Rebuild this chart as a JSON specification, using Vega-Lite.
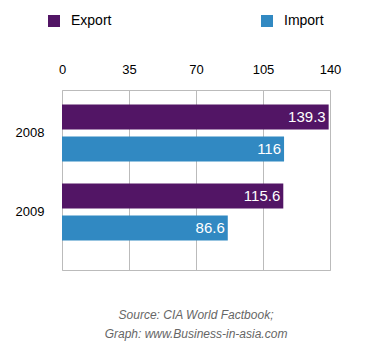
{
  "$schema": "https://vega.github.io/schema/vega-lite/v6.json",
  "width": 268,
  "height": 180,
  "autosize": {"type": "none"},
  "padding": {"left": 62, "top": 90, "right": 52, "bottom": 84},
  "config": {
    "font": "Liberation Sans",
    "view": {"stroke": "#bbbbbb"}
  },
  "title": {
    "text": ["Source: CIA World Factbook;", "Graph: www.Business-in-asia.com"],
    "orient": "bottom",
    "anchor": "middle",
    "offset": 40,
    "fontSize": 12,
    "fontStyle": "italic",
    "fontWeight": "normal",
    "color": "#666666",
    "lineHeight": 19
  },
  "data": {
    "values": [
      {"year": "2008", "type": "Export", "value": 139.3},
      {"year": "2008", "type": "Import", "value": 116},
      {"year": "2009", "type": "Export", "value": 115.6},
      {"year": "2009", "type": "Import", "value": 86.6}
    ]
  },
  "encoding": {
    "y": {
      "field": "year",
      "type": "nominal",
      "scale": {"paddingInner": 0.28, "paddingOuter": 0.28, "align": 0.33},
      "axis": {"title": null, "domain": false, "ticks": false, "labelFontSize": 13, "labelColor": "#000000", "labelPadding": 18}
    },
    "yOffset": {"field": "type", "type": "nominal", "scale": {"paddingInner": 0.22}},
    "x": {
      "field": "value",
      "type": "quantitative",
      "scale": {"domain": [0, 140], "nice": false},
      "axis": {"orient": "top", "title": null, "values": [0, 35, 70, 105, 140], "domain": false, "ticks": false, "labelFontSize": 13, "labelColor": "#000000", "labelPadding": 14, "gridColor": "#bbbbbb", "labelFlush": false}
    }
  },
  "layer": [
    {
      "mark": {"type": "bar"},
      "encoding": {
        "color": {
          "field": "type",
          "type": "nominal",
          "scale": {"domain": ["Export", "Import"], "range": ["#521565", "#3189c2"]},
          "legend": {
            "title": null,
            "orient": "none",
            "legendX": -15,
            "legendY": -76,
            "direction": "horizontal",
            "symbolType": "square",
            "symbolSize": 144,
            "symbolOpacity": 1,
            "labelFontSize": 14,
            "labelColor": "#000000",
            "labelOffset": 10,
            "columnPadding": 148
          }
        }
      }
    },
    {
      "mark": {"type": "text", "align": "right", "baseline": "middle", "dx": -3, "fontSize": 15, "color": "white"},
      "encoding": {"text": {"field": "value", "type": "quantitative"}}
    }
  ]
}
